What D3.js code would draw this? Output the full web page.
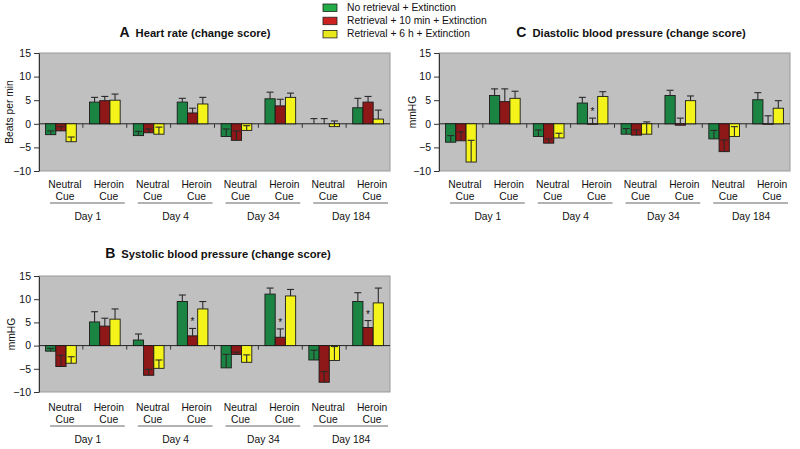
<!DOCTYPE html>
<html lang="en">
<head>
<meta charset="utf-8">
<title>Change scores</title>
<script src="https://d3js.org/d3.v7.min.js"></script>
<style>
  body { margin: 0; background: #fff; }
  text { font-family: "Liberation Sans", Arial, sans-serif; fill: #111; }
</style>
</head>
<body>
<div id="s"></div>
<script>
var WIDTH = 800;
var HEIGHT = 449;

// data
var series = ["No retrieval + Extinction", "Retrieval + 10 min + Extinction", "Retrieval + 6 h + Extinction"];
var barColors = ["#1c8443", "#8e1717", "#f4f41a"];
var legendColors = ["#22ac48", "#cc2222", "#e8e81a"];
var days = ["Day 1", "Day 4", "Day 34", "Day 184"];
var cues = ["Neutral", "Heroin"];
var categories = ["d1n", "d1h", "d4n", "d4h", "d34n", "d34h", "d184n", "d184h"];
var yTicks = [-10, -5, 0, 5, 10, 15];

// A - heart rate
var hrMean = [
    [-2.3, 4.6, -2.5, 4.6, -2.7, 5.3, 0, 3.4],
    [-1.5, 4.9, -1.9, 2.3, -3.5, 3.8, 0, 4.6],
    [-3.8, 5.0, -2.2, 4.2, -1.4, 5.6, -0.6, 1.0]
];
var hrErr = [
    [0.8, 1.0, 0.9, 0.8, 1.6, 1.4, 1.1, 2.0],
    [0.9, 0.9, 0.8, 1.0, 2.0, 1.4, 1.1, 1.2],
    [1.0, 1.3, 1.5, 1.4, 1.0, 0.9, 1.2, 1.9]
];
var hrStars = [];

// B - systolic
var sbpMean = [
    [-1.2, 5.1, 1.2, 9.5, -4.8, 11.1, -3.1, 9.5],
    [-4.5, 4.2, -6.4, 2.1, -1.9, 1.8, -7.9, 3.9],
    [-3.8, 5.7, -4.9, 7.9, -3.6, 10.7, -3.2, 9.2]
];
var sbpErr = [
    [0.6, 2.2, 1.3, 1.4, 2.9, 1.3, 2.1, 1.9],
    [2.4, 1.7, 1.3, 1.6, 0.5, 1.8, 2.3, 1.5],
    [1.4, 2.2, 1.8, 1.6, 1.6, 1.4, 3.0, 3.2]
];
var sbpStars = [3, 5, 7];

// C - diastolic
var dbpMean = [
    [-3.9, 6.0, -2.7, 4.4, -2.2, 6.0, -3.2, 5.1],
    [-3.6, 4.7, -4.1, -0.1, -2.4, -0.3, -5.9, -0.1],
    [-8.1, 5.4, -3.0, 5.8, -2.2, 4.9, -2.7, 3.3]
];
var dbpErr = [
    [1.4, 1.4, 1.4, 1.2, 1.2, 1.1, 1.8, 1.5],
    [1.9, 2.7, 0.9, 1.3, 1.1, 1.5, 2.5, 1.8],
    [4.6, 1.5, 1.0, 1.0, 2.6, 1.0, 2.1, 1.6]
];
var dbpStars = [3];

const svg = d3.select("#s")
    .append("svg")
    .attr("width", WIDTH)
    .attr("height", HEIGHT);

// legend
var leg = svg.append("g");
series.forEach(function(s, i) {
    leg.append("rect")
        .attr("x", 323).attr("y", 4 + i * 13.2)
        .attr("width", 14).attr("height", 7.5)
        .attr("fill", legendColors[i])
        .attr("stroke", "#222").attr("stroke-width", 0.8);
    leg.append("text")
        .attr("x", 347).attr("y", 8 + i * 13.2)
        .attr("dominant-baseline", "middle")
        .style("font-size", "10.3px")
        .text(s);
});

function panel(p) {
    var g = svg.append("g");
    var x = d3.scaleBand().domain(categories)
        .range([p.left, p.right]).paddingInner(0.3).paddingOuter(0.15);
    var xs = d3.scaleBand().domain(d3.range(series.length))
        .range([0, x.bandwidth()]);
    var y = d3.scaleLinear().domain([-10, 15]).range([p.bottom, p.top]);
    var step = x.step();

    // plot area
    g.append("rect")
        .attr("x", p.left).attr("y", p.top)
        .attr("width", p.right - p.left).attr("height", p.bottom - p.top)
        .attr("fill", "#c0c0c0").attr("stroke", "#9a9a9a").attr("stroke-width", 1);

    // zero line + ticks at category boundaries
    g.append("line")
        .attr("x1", p.left).attr("x2", p.right)
        .attr("y1", y(0)).attr("y2", y(0))
        .attr("stroke", "#222").attr("stroke-width", 1);
    d3.range(1, categories.length).forEach(function(k) {
        var bx = p.left + step * 0.15 + k * step - step * 0.15;
        g.append("line")
            .attr("x1", bx).attr("x2", bx)
            .attr("y1", y(0)).attr("y2", y(0) + 4)
            .attr("stroke", "#333").attr("stroke-width", 1);
    });

    // bars
    p.mean.forEach(function(vals, si) {
        vals.forEach(function(v, ci) {
            var bx = x(categories[ci]) + xs(si);
            g.append("rect")
                .attr("x", bx).attr("y", Math.min(y(v), y(0)))
                .attr("width", xs.bandwidth())
                .attr("height", Math.abs(y(v) - y(0)))
                .attr("fill", barColors[si])
                .attr("stroke", "#1a1a1a").attr("stroke-width", 0.9);
        });
    });

    // error bars (plus direction)
    p.mean.forEach(function(vals, si) {
        vals.forEach(function(v, ci) {
            var cx = x(categories[ci]) + xs(si) + xs.bandwidth() / 2;
            var top = v + p.err[si][ci];
            g.append("line")
                .attr("x1", cx).attr("x2", cx)
                .attr("y1", y(v)).attr("y2", y(top))
                .attr("stroke", "#2a2a2a").attr("stroke-width", 1.1);
            g.append("line")
                .attr("x1", cx - 3.5).attr("x2", cx + 3.5)
                .attr("y1", y(top)).attr("y2", y(top))
                .attr("stroke", "#2a2a2a").attr("stroke-width", 1.1);
        });
    });

    // stars over red bars
    p.stars.forEach(function(ci) {
        var cx = x(categories[ci]) + xs(1) + xs.bandwidth() / 2;
        var top = p.mean[1][ci] + p.err[1][ci];
        g.append("text")
            .attr("x", cx).attr("y", y(top) - 3)
            .attr("text-anchor", "middle")
            .style("font-size", "10px")
            .text("*");
    });

    // y axis
    var ax = g.append("g")
        .attr("transform", "translate(" + p.left + ",0)")
        .call(d3.axisLeft(y).tickValues(yTicks).tickSize(5).tickPadding(3).tickSizeOuter(0));
    ax.select(".domain").attr("stroke", "#333");
    ax.selectAll(".tick line").attr("stroke", "#333");
    ax.selectAll("text").style("font-size", "10.5px").attr("fill", "#111")
        .style("font-family", "'Liberation Sans', Arial, sans-serif");

    // y label
    g.append("text")
        .attr("transform", "translate(" + p.ylx + "," + ((p.top + p.bottom) / 2) + ") rotate(-90)")
        .attr("text-anchor", "middle")
        .attr("dominant-baseline", "middle")
        .style("font-size", "10.3px")
        .text(p.ylab);

    // category labels
    categories.forEach(function(c, ci) {
        var cx = x(c) + x.bandwidth() / 2 + 4;
        g.append("text")
            .attr("x", cx).attr("y", p.bottom + p.ly[0])
            .attr("text-anchor", "middle").style("font-size", "10.3px")
            .text(cues[ci % 2]);
        g.append("text")
            .attr("x", cx).attr("y", p.bottom + p.ly[1])
            .attr("text-anchor", "middle").style("font-size", "10.3px")
            .text("Cue");
    });
    days.forEach(function(d, di) {
        var x0 = p.left + di * 2 * step;
        g.append("line")
            .attr("x1", x0 + 11).attr("x2", x0 + 2 * step - 2)
            .attr("y1", p.bottom + p.ly[2]).attr("y2", p.bottom + p.ly[2])
            .attr("stroke", "#666").attr("stroke-width", 1);
        g.append("text")
            .attr("x", x0 + step + 5).attr("y", p.bottom + p.ly[3])
            .attr("text-anchor", "middle").style("font-size", "10.3px")
            .text(d);
    });

    // title
    var t = g.append("text")
        .attr("x", p.tx).attr("y", p.ty)
        .attr("text-anchor", "middle")
        .style("font-weight", "bold");
    t.append("tspan").style("font-size", "14px").text(p.letter);
    t.append("tspan").style("font-size", "11.2px").attr("dx", 6).text(p.title);
}

panel({letter: "A", title: "Heart rate (change score)", ylab: "Beats per min",
    left: 39, right: 390, top: 53, bottom: 171, tx: 195, ty: 37, ylx: 10,
    ly: [17, 29, 32, 49], mean: hrMean, err: hrErr, stars: hrStars});
panel({letter: "B", title: "Systolic blood pressure (change score)", ylab: "mmHG",
    left: 39, right: 390, top: 276, bottom: 392, tx: 218, ty: 258, ylx: 12,
    ly: [19, 31, 34, 51], mean: sbpMean, err: sbpErr, stars: sbpStars});
panel({letter: "C", title: "Diastolic blood pressure (change score)", ylab: "mmHG",
    left: 439, right: 790, top: 53, bottom: 171, tx: 631, ty: 37, ylx: 413,
    ly: [17, 29, 32, 49], mean: dbpMean, err: dbpErr, stars: dbpStars});
</script>
</body>
</html>
